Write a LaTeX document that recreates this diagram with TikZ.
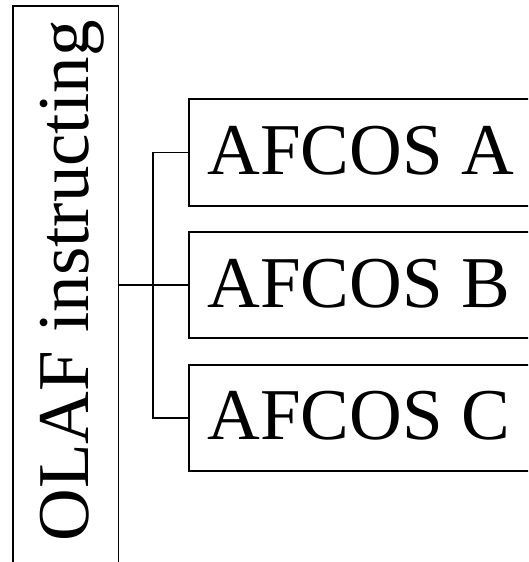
\documentclass[tikz,border=0pt]{standalone}
\usepackage{fontspec}
\setmainfont{Liberation Serif}
\begin{document}
\begin{tikzpicture}[x=1pt,y=1pt,
  frame/.style={draw=black,line width=1.8pt,rectangle,inner sep=0pt},
  lbl/.style={inner sep=0pt,font=\fontsize{73}{80}\selectfont},
  conn/.style={draw=black,line width=1.8pt}]
\useasboundingbox (0,0) rectangle (528,562);
\clip (0,0) rectangle (528,562);
% left box (its bottom edge lies below the picture)
\node[frame,minimum width=105.5pt,minimum height=570pt] (L) at (65.75,271.3) {};
\node[lbl,rotate=90,anchor=base] (tL) at (88.3,281) {OLAF instructing};
% right boxes
\node[frame,minimum width=352pt,minimum height=106.5pt,anchor=west] (A) at (188.3,409.5) {};
\node[frame,minimum width=352pt,minimum height=106pt,anchor=west] (B) at (188.3,277) {};
\node[frame,minimum width=352pt,minimum height=106pt,anchor=west] (C) at (188.3,144) {};
\node[lbl,anchor=base west] (tA) at (207.5,387) {AFCOS A};
\node[lbl,anchor=base west] (tB) at (207.5,254.5) {AFCOS B};
\node[lbl,anchor=base west] (tC) at (207.5,122) {AFCOS C};
% connectors
\coordinate (bus) at (153.3,277);
\draw[conn] (L.east |- B.west) -- (B.west);
\draw[conn] (A.west) -- (A.west -| bus) |- (C.west);
\end{tikzpicture}
\end{document}
